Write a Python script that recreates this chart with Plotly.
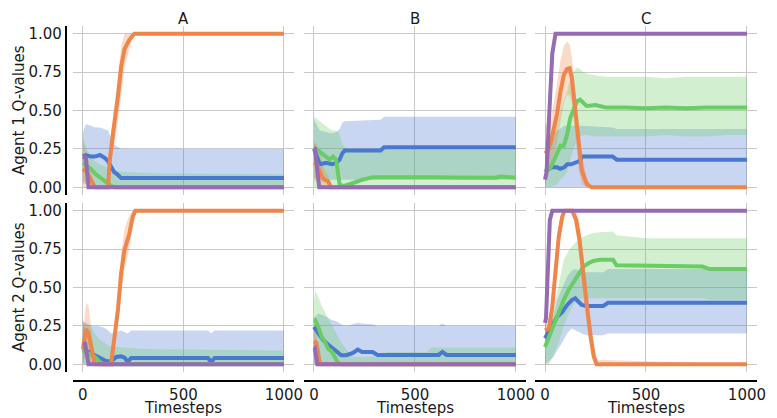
import plotly.graph_objects as go

# ---------------- data ----------------
# Panel A1 (Agent 1, scenario A)
A1_blue_t = [0, 15, 40, 60, 85, 110, 125, 140, 155, 175, 190, 1000]
A1_blue = [0.20, 0.21, 0.20, 0.20, 0.21, 0.19, 0.17, 0.13, 0.10, 0.08, 0.06, 0.06]
A1_blue_hi = [0.36, 0.41, 0.40, 0.39, 0.39, 0.38, 0.37, 0.32, 0.28, 0.26, 0.25, 0.25]
A1_blue_lo = [0.04, 0.02, 0.01, 0.01, 0, 0, 0, 0, 0, 0, 0, 0]
A1_green_t = [0, 20, 40, 60, 80, 100, 120, 140, 160, 200, 400, 1000]
A1_green = [0.16, 0.14, 0.12, 0.09, 0.07, 0.05, 0.03, 0.01, 0.0, 0.0, 0.0, 0.0]
A1_green_hi = [0.33, 0.25, 0.20, 0.17, 0.15, 0.14, 0.13, 0.12, 0.11, 0.10, 0.09, 0.085]
A1_green_lo = [0.02, 0.03, 0.03, 0.02, 0.01, 0, 0, 0, 0, 0, 0, 0]
A1_orange_t = [0, 20, 40, 60, 125, 134, 150, 158, 174, 191, 207, 231, 256, 1000]
A1_orange = [0.12, 0.10, 0.05, 0.0, 0.0, 0.18, 0.35, 0.42, 0.59, 0.79, 0.90, 0.96, 1.0, 1.0]
A1_orange_hi = [0.30, 0.22, 0.10, 0.0, 0.0, 0.30, 0.45, 0.55, 0.75, 0.92, 1.0, 1.0, 1.0, 1.0]
A1_orange_lo = [0.0, 0.0, 0.0, 0.0, 0.0, 0.05, 0.25, 0.30, 0.42, 0.60, 0.78, 0.90, 1.0, 1.0]
A1_purple_t = [0, 15, 28, 1000]
A1_purple = [0.20, 0.19, 0.0, 0.0]
A1_purple_hi = [0.22, 0.22, 0.0, 0.0]
A1_purple_lo = [0.17, 0.15, 0.0, 0.0]

# Panel B1
B1_blue_t = [0, 29, 60, 90, 110, 127, 140, 152, 330, 347, 1000]
B1_blue = [0.25, 0.15, 0.16, 0.15, 0.16, 0.18, 0.22, 0.24, 0.24, 0.26, 0.26]
B1_blue_hi = [0.44, 0.37, 0.36, 0.35, 0.36, 0.38, 0.42, 0.43, 0.44, 0.46, 0.46]
B1_blue_lo = [0.06, 0.05, 0.05, 0.05, 0.05, 0.05, 0.05, 0.05, 0.05, 0.05, 0.05]
B1_green_t = [0, 29, 54, 78, 94, 110, 119, 127, 140, 152, 176, 209, 241, 290, 400, 500,
              600, 700, 800, 900, 920, 1000]
B1_green = [0.26, 0.23, 0.20, 0.18, 0.20, 0.18, 0.09, 0.02, 0.01, 0.01, 0.02, 0.035, 0.05,
            0.065, 0.067, 0.063, 0.066, 0.064, 0.065, 0.063, 0.07, 0.063]
B1_green_hi = [0.46, 0.43, 0.40, 0.38, 0.37, 0.37, 0.36, 0.34, 0.28, 0.26, 0.25, 0.25, 0.25,
               0.25, 0.25, 0.25, 0.25, 0.25, 0.25, 0.25, 0.25, 0.25]
B1_green_lo = [0.0] * 22
B1_orange_t = [0, 15, 35, 50, 70, 85, 1000]
B1_orange = [0.16, 0.15, 0.08, 0.05, 0.04, 0.0, 0.0]
B1_orange_hi = [0.30, 0.28, 0.20, 0.12, 0.08, 0.0, 0.0]
B1_orange_lo = [0.05, 0.03, 0.0, 0.0, 0.0, 0.0, 0.0]
B1_purple_t = [0, 5, 26, 1000]
B1_purple = [0.25, 0.25, 0.0, 0.0]
B1_purple_hi = [0.28, 0.28, 0.0, 0.0]
B1_purple_lo = [0.20, 0.20, 0.0, 0.0]

# Panel C1
C1_blue_t = [0, 30, 60, 75, 95, 110, 130, 150, 170, 185, 335, 355, 1000]
C1_blue = [0.10, 0.13, 0.13, 0.12, 0.13, 0.15, 0.15, 0.16, 0.17, 0.20, 0.20, 0.18, 0.18]
C1_blue_hi = [0.30, 0.33, 0.37, 0.38, 0.40, 0.40, 0.40, 0.40, 0.40, 0.40, 0.39, 0.38, 0.38]
C1_blue_lo = [0.0] * 13
C1_green_t = [0, 28, 44, 60, 76, 93, 109, 125, 141, 158, 174, 190, 206, 250, 300, 400, 500,
              600, 700, 800, 900, 1000]
C1_green = [0.10, 0.13, 0.175, 0.22, 0.27, 0.27, 0.34, 0.45, 0.51, 0.56, 0.57, 0.55, 0.53,
            0.535, 0.52, 0.52, 0.515, 0.52, 0.515, 0.52, 0.52, 0.52]
C1_green_hi = [0.25, 0.30, 0.36, 0.42, 0.50, 0.56, 0.62, 0.70, 0.75, 0.78, 0.77, 0.75, 0.74,
               0.73, 0.72, 0.72, 0.72, 0.71, 0.72, 0.72, 0.72, 0.72]
C1_green_lo = [0.0, 0.0, 0.01, 0.02, 0.05, 0.07, 0.10, 0.18, 0.25, 0.30, 0.33, 0.34, 0.34,
               0.33, 0.33, 0.33, 0.33, 0.34, 0.33, 0.33, 0.34, 0.34]
C1_orange_t = [0, 15, 30, 44, 60, 76, 93, 109, 122, 133, 150, 166, 182, 207, 231, 1000]
C1_orange = [0.22, 0.24, 0.30, 0.38, 0.48, 0.62, 0.73, 0.77, 0.775, 0.71, 0.50, 0.26, 0.11,
             0.02, 0.0, 0.0]
C1_orange_hi = [0.40, 0.42, 0.45, 0.55, 0.68, 0.82, 0.92, 0.95, 0.93, 0.85, 0.65, 0.42, 0.22,
                0.06, 0.0, 0.0]
C1_orange_lo = [0.05, 0.10, 0.15, 0.22, 0.30, 0.42, 0.55, 0.60, 0.60, 0.55, 0.35, 0.12, 0.02,
                0.0, 0.0, 0.0]
C1_purple_t = [0, 8, 20, 36, 52, 1000]
C1_purple = [0.05, 0.10, 0.45, 0.87, 1.0, 1.0]
C1_purple_hi = [0.08, 0.15, 0.52, 0.92, 1.0, 1.0]
C1_purple_lo = [0.03, 0.06, 0.38, 0.82, 1.0, 1.0]

# Panel A2 (Agent 2, scenario A)
A2_blue_t = [0, 28, 52, 77, 101, 117, 142, 166, 190, 207, 223, 240, 622, 638, 655, 1000]
A2_blue = [0.10, 0.08, 0.065, 0.048, 0.03, 0.02, 0.02, 0.048, 0.052, 0.044, 0.015, 0.041,
           0.041, 0.015, 0.041, 0.041]
A2_blue_hi = [0.28, 0.26, 0.25, 0.25, 0.24, 0.23, 0.20, 0.21, 0.22, 0.21, 0.20, 0.22, 0.22,
              0.20, 0.22, 0.22]
A2_blue_lo = [0.0] * 16
A2_green_t = [0, 36, 60, 77, 95, 130, 200, 300, 1000]
A2_green = [0.09, 0.065, 0.048, 0.026, 0.0, 0.0, 0.0, 0.0, 0.0]
A2_green_hi = [0.27, 0.25, 0.20, 0.17, 0.15, 0.12, 0.11, 0.10, 0.09]
A2_green_lo = [0.0] * 9
A2_orange_t = [0, 16, 28, 44, 60, 140, 158, 174, 190, 207, 231, 248, 261, 1000]
A2_orange = [0.10, 0.23, 0.20, 0.09, 0.0, 0.0, 0.20, 0.35, 0.59, 0.745, 0.85, 0.96, 1.0, 1.0]
A2_orange_hi = [0.20, 0.40, 0.38, 0.20, 0.03, 0.0, 0.28, 0.45, 0.72, 0.88, 0.97, 1.0, 1.0, 1.0]
A2_orange_lo = [0.0, 0.08, 0.05, 0.0, 0.0, 0.0, 0.12, 0.25, 0.45, 0.62, 0.75, 0.90, 1.0, 1.0]
A2_purple_t = [0, 11, 28, 1000]
A2_purple = [0.14, 0.135, 0.0, 0.0]
A2_purple_hi = [0.31, 0.20, 0.0, 0.0]
A2_purple_lo = [0.0, 0.07, 0.0, 0.0]

# Panel B2
B2_blue_t = [0, 21, 46, 70, 86, 111, 135, 160, 193, 217, 238, 290, 315, 617, 636, 657, 1000]
B2_blue = [0.244, 0.20, 0.157, 0.129, 0.113, 0.08, 0.059, 0.059, 0.074, 0.096, 0.08, 0.08,
           0.061, 0.061, 0.08, 0.061, 0.061]
B2_blue_hi = [0.30, 0.33, 0.32, 0.30, 0.29, 0.28, 0.26, 0.25, 0.26, 0.27, 0.265, 0.26, 0.25,
              0.25, 0.265, 0.25, 0.25]
B2_blue_lo = [0.0] * 17
B2_green_t = [0, 5, 21, 38, 54, 70, 86, 103, 119, 135, 160, 193, 340, 360, 560, 580, 1000]
B2_green = [0.29, 0.29, 0.244, 0.18, 0.146, 0.10, 0.087, 0.048, 0.01, 0.0, 0.0, 0.0, 0.0,
            0.0, 0.0, 0.0, 0.0]
B2_green_hi = [0.40, 0.48, 0.44, 0.38, 0.34, 0.30, 0.26, 0.22, 0.18, 0.14, 0.10, 0.05, 0.05,
               0.08, 0.08, 0.11, 0.11]
B2_green_lo = [0.0] * 17
B2_orange_t = [0, 12, 30, 1000]
B2_orange = [0.15, 0.14, 0.0, 0.0]
B2_orange_hi = [0.28, 0.20, 0.0, 0.0]
B2_orange_lo = [0.05, 0.06, 0.0, 0.0]
B2_purple_t = [0, 4, 16, 1000]
B2_purple = [0.11, 0.11, 0.0, 0.0]
B2_purple_hi = [0.15, 0.15, 0.0, 0.0]
B2_purple_lo = [0.07, 0.07, 0.0, 0.0]

# Panel C2
C2_blue_t = [0, 20, 44, 60, 85, 109, 133, 150, 166, 182, 206, 288, 312, 1000]
C2_blue = [0.17, 0.22, 0.28, 0.31, 0.34, 0.385, 0.418, 0.43, 0.407, 0.386, 0.38, 0.38, 0.40, 0.40]
C2_blue_hi = [0.20, 0.26, 0.33, 0.42, 0.50, 0.57, 0.61, 0.62, 0.61, 0.60, 0.60, 0.60, 0.62, 0.62]
C2_blue_lo = [0.0, 0.02, 0.05, 0.09, 0.14, 0.20, 0.233, 0.22, 0.21, 0.20, 0.19, 0.19, 0.20, 0.20]
C2_green_t = [0, 20, 36, 52, 68, 93, 117, 141, 166, 190, 215, 239, 272, 337, 354, 500, 780, 815, 1000]
C2_green = [0.113, 0.18, 0.233, 0.29, 0.353, 0.42, 0.484, 0.538, 0.593, 0.636, 0.658, 0.673,
            0.68, 0.68, 0.645, 0.64, 0.636, 0.62, 0.62]
C2_green_hi = [0.20, 0.28, 0.33, 0.42, 0.53, 0.68, 0.74, 0.78, 0.81, 0.83, 0.845, 0.855, 0.86,
               0.865, 0.84, 0.82, 0.82, 0.82, 0.82]
C2_green_lo = [0.0, 0.0, 0.04, 0.09, 0.14, 0.25, 0.33, 0.39, 0.42, 0.43, 0.43, 0.43, 0.43,
               0.43, 0.43, 0.43, 0.43, 0.42, 0.42]
C2_orange_t = [0, 20, 36, 52, 68, 85, 97, 135, 154, 171, 190, 210, 226, 242, 256, 1000]
C2_orange = [0.22, 0.235, 0.375, 0.636, 0.83, 0.96, 1.0, 1.0, 0.94, 0.81, 0.57, 0.35, 0.18,
             0.05, 0.0, 0.0]
C2_orange_hi = [0.30, 0.30, 0.45, 0.72, 0.90, 1.0, 1.0, 1.0, 1.0, 0.92, 0.70, 0.48, 0.30,
                0.12, 0.03, 0.0]
C2_orange_lo = [0.15, 0.15, 0.30, 0.55, 0.75, 0.90, 1.0, 1.0, 0.86, 0.70, 0.45, 0.24, 0.08,
                0.0, 0.0, 0.0]
C2_purple_t = [0, 5, 15, 24, 36, 1000]
C2_purple = [0.27, 0.30, 0.64, 0.94, 1.0, 1.0]
C2_purple_hi = [0.30, 0.35, 0.72, 0.98, 1.0, 1.0]
C2_purple_lo = [0.22, 0.25, 0.55, 0.88, 1.0, 1.0]

col_titles = ["A", "B", "C"]
row_titles = ["Agent 1 Q-values", "Agent 2 Q-values"]
x_label = "Timesteps"
x_tickvals = [0, 500, 1000]
x_ticktext = ["0", "500", "1000"]
y_tickvals = [0, 0.25, 0.5, 0.75, 1.0]
y_ticktext = ["0.00", "0.25", "0.50", "0.75", "1.00"]

series_colors = {"blue": "#4878d0", "green": "#6acc64", "orange": "#ee854a", "purple": "#956cb4"}
series_order = ["blue", "green", "orange", "purple"]

panels = [
    {"blue": (A1_blue_t, A1_blue, A1_blue_lo, A1_blue_hi),
     "green": (A1_green_t, A1_green, A1_green_lo, A1_green_hi),
     "orange": (A1_orange_t, A1_orange, A1_orange_lo, A1_orange_hi),
     "purple": (A1_purple_t, A1_purple, A1_purple_lo, A1_purple_hi)},
    {"blue": (B1_blue_t, B1_blue, B1_blue_lo, B1_blue_hi),
     "green": (B1_green_t, B1_green, B1_green_lo, B1_green_hi),
     "orange": (B1_orange_t, B1_orange, B1_orange_lo, B1_orange_hi),
     "purple": (B1_purple_t, B1_purple, B1_purple_lo, B1_purple_hi)},
    {"blue": (C1_blue_t, C1_blue, C1_blue_lo, C1_blue_hi),
     "green": (C1_green_t, C1_green, C1_green_lo, C1_green_hi),
     "orange": (C1_orange_t, C1_orange, C1_orange_lo, C1_orange_hi),
     "purple": (C1_purple_t, C1_purple, C1_purple_lo, C1_purple_hi)},
    {"blue": (A2_blue_t, A2_blue, A2_blue_lo, A2_blue_hi),
     "green": (A2_green_t, A2_green, A2_green_lo, A2_green_hi),
     "orange": (A2_orange_t, A2_orange, A2_orange_lo, A2_orange_hi),
     "purple": (A2_purple_t, A2_purple, A2_purple_lo, A2_purple_hi)},
    {"blue": (B2_blue_t, B2_blue, B2_blue_lo, B2_blue_hi),
     "green": (B2_green_t, B2_green, B2_green_lo, B2_green_hi),
     "orange": (B2_orange_t, B2_orange, B2_orange_lo, B2_orange_hi),
     "purple": (B2_purple_t, B2_purple, B2_purple_lo, B2_purple_hi)},
    {"blue": (C2_blue_t, C2_blue, C2_blue_lo, C2_blue_hi),
     "green": (C2_green_t, C2_green, C2_green_lo, C2_green_hi),
     "orange": (C2_orange_t, C2_orange, C2_orange_lo, C2_orange_hi),
     "purple": (C2_purple_t, C2_purple, C2_purple_lo, C2_purple_hi)},
]

# ---------------- layout geometry ----------------
# The page body has an 8px default margin, so the figure is drawn 8px smaller
# and all reference pixel positions are mapped through the paper area below.
OFF = 8
W, H = 777 - OFF, 418 - OFF
PAPER_L, PAPER_R, PAPER_T, PAPER_B = 60, 770, 20, 385  # in reference pixels
ML, MT = PAPER_L - OFF, PAPER_T - OFF
MR, MB = 777 - PAPER_R, 418 - PAPER_B
PW, PH = PAPER_R - PAPER_L, PAPER_B - PAPER_T


def fx(px):
    return (px - PAPER_L) / PW


def fy(py):
    return (PAPER_B - py) / PH


col_px = [(73, 297), (307, 532), (541, 766)]
row_px = [(26, 195), (203, 372)]
LEFT_SPINE_PX = 66
BOTTOM_SPINE_PX = 381

FONT = "DejaVu Sans"
TXT = "#1a1a1a"
GRID = "#c8c8c8"


def rgba(hexcol, a):
    h = hexcol.lstrip("#")
    r, g, b = int(h[0:2], 16), int(h[2:4], 16), int(h[4:6], 16)
    return f"rgba({r},{g},{b},{a})"


fig = go.Figure()

for k, panel in enumerate(panels):
    xa = "x" if k == 0 else f"x{k + 1}"
    ya = "y" if k == 0 else f"y{k + 1}"
    for name in series_order:
        t, m, lo, hi = panel[name]
        fig.add_trace(go.Scatter(
            x=list(t) + list(t)[::-1], y=list(hi) + list(lo)[::-1],
            fill="toself", fillcolor=rgba(series_colors[name], 0.3),
            line=dict(width=0), mode="lines", hoverinfo="skip",
            showlegend=False, xaxis=xa, yaxis=ya))
    for name in series_order:
        t, m, lo, hi = panel[name]
        fig.add_trace(go.Scatter(
            x=t, y=m, mode="lines",
            line=dict(color=series_colors[name], width=4),
            showlegend=False, xaxis=xa, yaxis=ya))

layout = dict(
    width=W, height=H,
    margin=dict(l=ML, r=MR, t=MT, b=MB),
    paper_bgcolor="white", plot_bgcolor="white",
    font=dict(family=FONT, size=15, color=TXT),
    showlegend=False,
)

annotations = []
for r in range(2):
    for c in range(3):
        k = r * 3 + c + 1
        sx = "" if k == 1 else str(k)
        xdom = [fx(col_px[c][0]), fx(col_px[c][1])]
        ydom = [fy(row_px[r][1]), fy(row_px[r][0])]
        xaxis = dict(domain=xdom, range=[-50, 1050], tickvals=x_tickvals, ticktext=x_ticktext,
                     showgrid=True, gridcolor=GRID, gridwidth=1.2, zeroline=False, ticks="",
                     showticklabels=(r == 1), tickfont=dict(family=FONT, size=15, color=TXT))
        if r == 1:
            xaxis.update(anchor="free", position=fy(BOTTOM_SPINE_PX), showline=True,
                         linecolor="black", linewidth=2)
        else:
            xaxis.update(anchor="y" + sx, showline=False)
        yaxis = dict(domain=ydom, range=[-0.05, 1.05], tickvals=y_tickvals, ticktext=y_ticktext,
                     showgrid=True, gridcolor=GRID, gridwidth=1.2, zeroline=False, ticks="",
                     showticklabels=(c == 0), tickfont=dict(family=FONT, size=15, color=TXT))
        if c == 0:
            yaxis.update(anchor="free", position=fx(LEFT_SPINE_PX), showline=True,
                         linecolor="black", linewidth=2)
        else:
            yaxis.update(anchor="x" + sx, showline=False)
        layout["xaxis" + sx] = xaxis
        layout["yaxis" + sx] = yaxis

for c in range(3):
    cx = fx((col_px[c][0] + col_px[c][1]) / 2)
    annotations.append(dict(text=col_titles[c], x=cx, y=fy(8.5), xref="paper", yref="paper",
                            xanchor="center", yanchor="top", showarrow=False,
                            font=dict(family=FONT, size=15, color=TXT)))
    annotations.append(dict(text=x_label, x=cx, y=fy(408.5), xref="paper", yref="paper",
                            xanchor="center", yanchor="middle", showarrow=False,
                            font=dict(family=FONT, size=15, color=TXT)))
for r in range(2):
    cy = fy((row_px[r][0] + row_px[r][1]) / 2)
    annotations.append(dict(text=row_titles[r], x=fx(18), y=cy, xref="paper", yref="paper",
                            xanchor="center", yanchor="middle", textangle=-90, showarrow=False,
                            font=dict(family=FONT, size=15, color=TXT)))
layout["annotations"] = annotations

fig.update_layout(**layout)
fig.write_html("out.html")
